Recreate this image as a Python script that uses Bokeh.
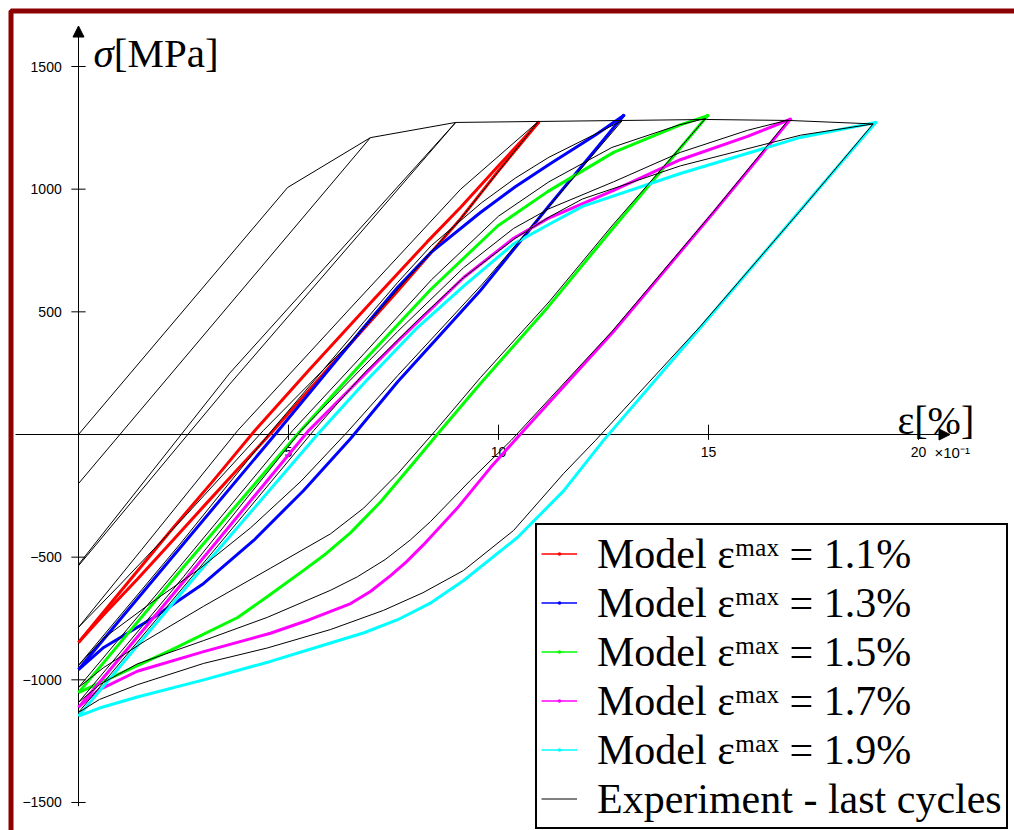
from bokeh.plotting import figure
from bokeh.models import Range1d, Legend, LegendItem, Arrow, NormalHead, BoxAnnotation
from bokeh.core.properties import value
from bokeh.embed import file_html
from bokeh.resources import INLINE

# ---------------- data (strain in 0.1 %, stress in MPa) ----------------
red_load_x = [0, 1.0, 2.2, 3.2, 4.2, 5.5, 7.0, 8.3, 9.1, 10.0, 10.95]
red_load_y = [-848, -640, -391, -190, 16, 265, 545, 785, 926, 1095, 1272]
red_unload_x = [10.95, 10.0, 9.1, 7.5, 6.0, 4.64, 3.8, 2.98, 2.2, 1.4, 0.6, 0]
red_unload_y = [1272, 1075, 880, 565, 280, 16, -140, -293, -440, -590, -735, -848]

blue_load_x = [0, 1.0, 2.5, 4.76, 6.79, 7.6, 8.38, 9.57, 10.4, 11.24, 12.3, 12.98]
blue_load_y = [-958, -752, -445, 16, 436, 600, 740, 905, 1010, 1105, 1220, 1300]
blue_unload_x = [12.98, 11.17, 9.57, 7.6, 6.48, 5.36, 4.17, 2.98, 1.79, 0.6, 0]
blue_unload_y = [1300, 925, 587, 215, -16, -228, -432, -607, -746, -868, -958]

green_load_x = [0, 2.5, 5.29, 6.79, 8.38, 9.98, 11.17, 12.74, 14.33, 14.98]
green_load_y = [-1052, -540, 16, 300, 590, 850, 990, 1150, 1262, 1300]
green_unload_x = [14.98, 12.74, 11.17, 9.57, 8.62, 7.98, 7.19, 6.48, 5.9, 5.36, 4.5, 3.79, 2.19, 1.0, 0]
green_unload_y = [1300, 844, 518, 208, 16, -115, -275, -400, -485, -554, -660, -746, -880, -974, -1052]

magenta_load_x = [0, 2.5, 5.48, 7.6, 9.17, 10.36, 11.17, 12.74, 14.33, 15.93, 16.95]
magenta_load_y = [-1113, -600, 16, 380, 640, 800, 880, 995, 1120, 1215, 1285]
magenta_unload_x = [16.95, 15.12, 12.74, 10.6, 9.81, 9.02, 8.21, 7.8, 7.43, 6.95, 6.48, 5.5, 4.57, 2.98, 1.4, 0.5, 0]
magenta_unload_y = [1285, 905, 420, 16, -135, -300, -450, -520, -575, -640, -689, -755, -810, -885, -965, -1040, -1110]

cyan_load_x = [0, 2.8, 5.71, 6.79, 8.07, 9.17, 10.36, 11.24, 12.0, 14.33, 17.19, 18.98]
cyan_load_y = [-1148, -575, 4, 208, 436, 605, 777, 860, 930, 1064, 1211, 1272]
cyan_unload_x = [18.98, 17.19, 14.81, 12.5, 11.55, 10.45, 9.17, 8.4, 7.6, 6.8, 6.0, 4.57, 2.98, 1.4, 0.5, 0]
cyan_unload_y = [1272, 915, 436, -24, -230, -420, -595, -685, -755, -808, -850, -925, -1000, -1070, -1115, -1148]

# experiment (black)
env_x = [0, 4.98, 6.95, 8.98, 10.95, 12.95, 14.95, 16.93, 18.92]
env_y = [0, 1007, 1210, 1272, 1276, 1280, 1284, 1280, 1266]
e07_x = [0, 6.95]
e07_y = [-200, 1210]
e09_load_x = [0, 3.6, 8.98]
e09_load_y = [-530, 250, 1272]
e09_unload_x = [8.98, 3.6, 0]
e09_unload_y = [1272, 205, -535]
e11_load_x = [0, 1.5, 3.79, 6.5, 9.1, 10.95]
e11_load_y = [-786, -470, 16, 520, 1000, 1276]
e11_unload_x = [10.95, 9.1, 6.5, 4.4, 2.5, 1.0, 0]
e11_unload_y = [1276, 880, 380, 16, -340, -610, -786]
e13_load_x = [0, 2.4, 4.6, 6.8, 7.6, 8.4, 9.6, 10.4, 11.2, 12.95]
e13_load_y = [-941, -450, 16, 460, 620, 770, 945, 1045, 1130, 1280]
e13_unload_x = [12.95, 11.2, 9.6, 7.6, 6.4, 5.3, 4.1, 2.9, 1.7, 0.6, 0]
e13_unload_y = [1280, 930, 610, 240, 10, -190, -380, -545, -690, -830, -941]
e15_load_x = [0, 2.5, 5.1, 6.8, 8.4, 10.0, 11.2, 12.7, 14.3, 14.93]
e15_load_y = [-1031, -520, 16, 330, 630, 890, 1030, 1170, 1262, 1288]
e15_unload_x = [14.93, 12.7, 11.2, 9.57, 8.5, 7.6, 6.79, 6.0, 4.57, 2.98, 1.6, 0.6, 0]
e15_unload_y = [1288, 850, 540, 232, 16, -160, -300, -405, -545, -700, -840, -950, -1031]
e17_load_x = [0, 2.5, 5.3, 7.6, 9.17, 10.36, 11.2, 12.74, 14.33, 15.93, 16.9]
e17_load_y = [-1092, -580, 16, 420, 680, 840, 920, 1030, 1150, 1240, 1282]
e17_unload_x = [16.9, 15.1, 12.7, 10.3, 9.33, 8.38, 7.9, 7.3, 6.64, 6.0, 4.5, 2.98, 1.4, 0.5, 0]
e17_unload_y = [1282, 905, 420, -24, -187, -355, -430, -510, -580, -635, -745, -840, -935, -1020, -1092]
e19_load_x = [0, 2.8, 5.6, 6.8, 8.1, 9.17, 10.4, 11.24, 12.0, 14.33, 17.19, 18.92]
e19_load_y = [-1133, -560, 16, 250, 470, 640, 800, 890, 960, 1095, 1220, 1266]
e19_unload_x = [18.92, 17.2, 14.8, 12.31, 11.55, 10.36, 9.17, 8.2, 7.26, 6.0, 4.5, 2.98, 1.4, 0.5, 0]
e19_unload_y = [1266, 915, 440, -24, -159, -391, -554, -645, -717, -795, -870, -933, -1020, -1080, -1133]

model_labels = ["Model \u03b5\u1d50\u1d43\u02e3 = 1.1%", "Model \u03b5\u1d50\u1d43\u02e3 = 1.3%",
                "Model \u03b5\u1d50\u1d43\u02e3 = 1.5%", "Model \u03b5\u1d50\u1d43\u02e3 = 1.7%",
                "Model \u03b5\u1d50\u1d43\u02e3 = 1.9%"]
exp_label = "Experiment - last cycles"
model_colors = ["#ff0000", "#0000ff", "#00ff00", "#ff00ff", "#00ffff"]

x_ticks = [0, 5, 10, 15, 20]
x_tick_labels = ["", "5", "10", "15", "20"]
y_ticks = [-1500, -1000, -500, 500, 1000, 1500]
y_tick_labels = ["\u22121500", "\u22121000", "\u2212500", "500", "1000", "1500"]

# ---------------- figure ----------------
W, H = 1014, 830
x0_px, y0_px = 78, 434          # canvas position of the origin
sx, sy = 42.0, 0.24533          # px per unit
x_lo, x_hi = -x0_px / sx, (W - x0_px) / sx
y_lo, y_hi = (y0_px - H) / sy, y0_px / sy
p = figure(width=W, height=H,
           x_range=Range1d(x_lo, x_hi), y_range=Range1d(y_lo, y_hi),
           x_axis_type=None, y_axis_type=None,
           toolbar_location=None, output_backend="svg", min_border=0)
p.outline_line_color = None
p.background_fill_color = "white"
p.border_fill_color = "white"

# dark red page frame (left and top edges visible, right/bottom cropped)
p.add_layout(BoxAnnotation(left=(10.5 - x0_px) / sx, right=x_hi + 5,
                           top=(y0_px - 10.5) / sy, bottom=y_lo - 500,
                           fill_alpha=0, line_color="#8b0000", line_width=5, line_alpha=1))

# axes through the origin
p.segment(x0=[-1.5, 0], y0=[0, -1515], x1=[20.6, 0], y1=[0, 1630], color="black", line_width=1)
p.add_layout(Arrow(end=NormalHead(size=11, fill_color="black", line_color="black"),
                   x_start=20.2, y_start=0, x_end=20.75, y_end=0, line_width=1, line_color="black"))
p.add_layout(Arrow(end=NormalHead(size=11, fill_color="black", line_color="black"),
                   x_start=0, y_start=1550, x_end=0, y_end=1665, line_width=1, line_color="black"))
# ticks
p.segment(x0=x_ticks, y0=[-22] * len(x_ticks), x1=x_ticks, y1=[40] * len(x_ticks), color="black", line_width=1)
p.segment(x0=[-0.17] * len(y_ticks), y0=y_ticks, x1=[0.17] * len(y_ticks), y1=y_ticks, color="black", line_width=1)
p.text(x=x_ticks, y=[-73] * len(x_ticks), text=x_tick_labels, text_align="center", text_baseline="middle",
       text_font=value("Liberation Sans"), text_font_size="14px", text_color="black")
p.text(x=[-0.4] * len(y_ticks), y=y_ticks, text=y_tick_labels, text_align="right", text_baseline="middle",
       text_font=value("Liberation Sans"), text_font_size="14px", text_color="black")
p.text(x=[20.38], y=[-73], text=["\u00d710\u207b\u00b9"], text_align="left", text_baseline="middle",
       text_font=value("Liberation Sans"), text_font_size="15px", text_color="black")
# axis titles
p.text(x=[0.36], y=[1555], text=["\u03c3"], text_font=value("Liberation Serif"), text_font_style="italic",
       text_font_size="41px", text_baseline="alphabetic", text_align="left", text_color="black")
p.text(x=[0.84], y=[1555], text=["[MPa]"], text_font=value("Liberation Serif"),
       text_font_size="41px", text_baseline="alphabetic", text_align="left", text_color="black")
p.text(x=[19.5], y=[57], text=["\u03b5[%]"], text_font=value("Liberation Serif"),
       text_font_size="40px", text_baseline="alphabetic", text_align="left", text_color="black")

# model loops
model_loops = [
    (red_load_x, red_load_y, red_unload_x, red_unload_y),
    (blue_load_x, blue_load_y, blue_unload_x, blue_unload_y),
    (green_load_x, green_load_y, green_unload_x, green_unload_y),
    (magenta_load_x, magenta_load_y, magenta_unload_x, magenta_unload_y),
    (cyan_load_x, cyan_load_y, cyan_unload_x, cyan_unload_y),
]
items = []
for (lx, ly, ux, uy), col, lab in zip(model_loops, model_colors, model_labels):
    p.line(lx, ly, line_color=col, line_width=3, line_join="round")
    p.line(ux, uy, line_color=col, line_width=3, line_join="round")
    # peak marker (small dot at the end of each model curve)
    r_dot = p.scatter([ux[0]], [uy[0]], marker="dot", size=14, line_color=col, fill_color=col, line_width=1.5)
    # a one-point line draws nothing in the plot; it only provides the thin legend swatch
    r_key = p.line([ux[0]], [uy[0]], line_color=col, line_width=1.5)
    items.append(LegendItem(label=lab, renderers=[r_key, r_dot]))

# experiment
exp_series = [(env_x, env_y), (e07_x, e07_y), (e09_load_x, e09_load_y), (e09_unload_x, e09_unload_y),
              (e11_load_x, e11_load_y), (e11_unload_x, e11_unload_y),
              (e13_load_x, e13_load_y), (e13_unload_x, e13_unload_y),
              (e15_load_x, e15_load_y), (e15_unload_x, e15_unload_y),
              (e17_load_x, e17_load_y), (e17_unload_x, e17_unload_y),
              (e19_load_x, e19_load_y), (e19_unload_x, e19_unload_y)]
exp_r = None
for ex, ey in exp_series:
    r = p.line(ex, ey, line_color="black", line_width=1, line_join="round")
    if exp_r is None:
        exp_r = r
items.append(LegendItem(label=exp_label, renderers=[exp_r]))

legend = Legend(items=items, location=(535, 1))
legend.label_text_font = "Liberation Serif"
legend.label_text_font_size = "42px"
legend.label_text_color = "black"
legend.glyph_width = 36
legend.glyph_height = 49
legend.label_height = 49
legend.label_standoff = 20
legend.spacing = 0
legend.padding = 4
legend.margin = 0
legend.border_line_color = "black"
legend.border_line_alpha = 1.0
legend.border_line_width = 2
legend.background_fill_color = "white"
legend.background_fill_alpha = 1.0
p.add_layout(legend)

open("out.html", "w").write(file_html(p, INLINE))
